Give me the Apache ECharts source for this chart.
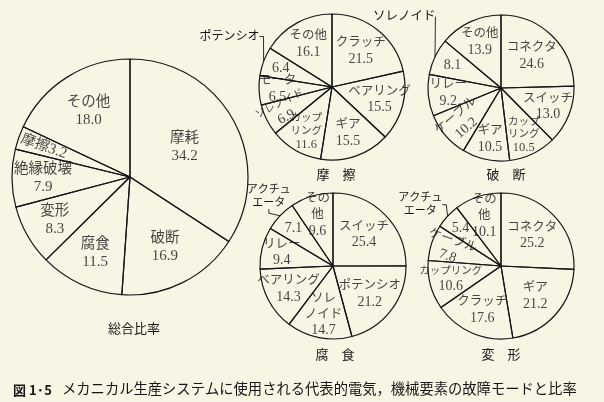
<!DOCTYPE html>
<html><head><meta charset="utf-8">
<script src="https://cdn.jsdelivr.net/npm/echarts@6/dist/echarts.min.js"></script>
<style>html,body{margin:0;padding:0;background:#f7f5e4;}#c{width:604px;height:402px;}</style>
</head><body><div id="c"></div>
<script>
// ---- data ----
const overallNames = ['摩耗','破断','腐食','変形','絶縁破壊','摩擦','その他'];
const overallValues = [34.2,16.9,11.5,8.3,7.9,3.2,18.0];
const frictionNames = ['クラッチ','ベアリング','ギア','カップ\nリング','ソレノイド','モータ','ポテンシオ','その他'];
const frictionValues = [21.5,15.5,15.5,11.6,6.9,6.5,6.4,16.1];
const fractureNames = ['コネクタ','スイッチ','カップ\nリング','ギア','ケーブル','リレー','ソレノイド','その他'];
const fractureValues = [24.6,13.0,10.5,10.5,10.2,9.2,8.1,13.9];
const corrosionNames = ['スイッチ','ポテンシオ','ソレ\nノイド','ベアリング','リレー','アクチュ\nエータ','その\n他'];
const corrosionValues = [25.4,21.2,14.7,14.3,9.4,7.1,9.6];
const deformNames = ['コネクタ','ギア','クラッチ','カップリング','ケーブル','アクチュ\nエータ','その\n他'];
const deformValues = [25.2,21.2,17.6,10.6,7.8,5.4,10.1];
const chartTitles = ['総合比率','摩　擦','破　断','腐　食','変　形'];
const captionNo = '図 1·5';
const captionText = 'メカニカル生産システムに使用される代表的電気，機械要素の故障モードと比率';

// ---- styling / layout config (not data) ----
const FONT = "'Liberation Serif','Noto Sans CJK JP',serif";
const INK = '#161616';
const BG = '#f7f5e4';
const pies = [
  {names: overallNames, values: overallValues, center:[130,177], r:118, nfs:14.5, vfs:15,
   outside:[], ofs:11, radial:['摩擦'], inline:['摩擦'], small:[], shift:[0,0]},
  {names: frictionNames, values: frictionValues, center:[332,87], r:73, nfs:12.5, vfs:14,
   outside:['ポテンシオ'], ofs:12, radial:['ソレノイド'], inline:[], small:['ソレノイド','カップ\nリング'], shift:[18,-20]},
  {names: fractureNames, values: fractureValues, center:[501,88], r:73, nfs:12.5, vfs:14,
   outside:['ソレノイド'], ofs:12.5, radial:['ケーブル'], inline:[], small:['カップ\nリング'], shift:[22,-34]},
  {names: corrosionNames, values: corrosionValues, center:[333,266], r:73, nfs:12.5, vfs:14,
   outside:['アクチュ\nエータ'], ofs:11, radial:[], inline:[], small:[], shift:[30,-10]},
  {names: deformNames, values: deformValues, center:[501,266], r:73, nfs:12.5, vfs:14,
   outside:['アクチュ\nエータ'], ofs:11, radial:['ケーブル'], inline:[], small:['カップリング'], shift:[14,-2]}
];
const titlePos = [[129,318],[331,164],[501,164],[330,344],[496,344]];

const series = [], polar = [], angleAxis = [], radiusAxis = [];
pies.forEach((p, pi) => {
  const total = p.values.reduce((a,b)=>a+b,0);
  // main pie: slices + outside name labels
  series.push({
    type:'pie', center:p.center, radius:p.r, startAngle:90, clockwise:true,
    silent:true, animation:false, avoidLabelOverlap:false,
    itemStyle:{color:'rgba(0,0,0,0)', borderColor:INK, borderWidth:1.2},
    label:{show:false}, labelLine:{show:false},
    labelLayout: function (params) {
      const r = params.labelRect;
      if (!r || !r.width) return {};
      return {x: r.x + r.width/2 + p.shift[0], y: r.y + r.height/2 + p.shift[1],
              align:'center', verticalAlign:'middle'};
    },
    data:p.names.map((n,i)=>{
      const o = {name:n, value:p.values[i]};
      if (p.outside.includes(n)) {
        o.label = {show:true, position:'outside', formatter:'{b}', color:INK,
                   fontFamily:FONT, fontSize:p.ofs, lineHeight:p.ofs+2, alignTo:'none'};
        o.labelLine = {show:true, length:14, length2:4, lineStyle:{color:INK, width:0.9}};
      }
      return o;
    })
  });
  // polar system sharing the pie's geometry, used to place the inner labels
  polar.push({center:p.center, radius:p.r});
  angleAxis.push({polarIndex:pi, type:'value', min:0, max:total, startAngle:90, clockwise:true, show:false});
  radiusAxis.push({polarIndex:pi, type:'value', min:0, max:1, show:false});
  let cum = 0;
  const pts = p.names.map((n,i)=>{
    const v = p.values[i];
    const mid = cum + v/2; cum += v;
    const share = v / total;
    const rf = Math.min(0.8, Math.max(0.5, 0.8 - 0.8*share));
    const vs = v.toFixed(1);
    const small = p.small.includes(n);
    const nk = small ? 'ns' : 'n';
    let txt;
    if (p.outside.includes(n)) txt = '{v|' + vs + '}';
    else if (p.inline.includes(n)) txt = '{n|' + n + '}{v|' + vs + '}';
    else txt = '{' + nk + '|' + n + '}\n{' + (small && n.includes('\n') ? 'vs' : 'v') + '|' + vs + '}';
    let rot = 0;
    if (p.radial.includes(n)) {
      const theta = mid / total * 360;
      rot = 90 - theta;
      while (rot > 90) rot -= 180;
      while (rot <= -90) rot += 180;
    }
    return {value:[rf, mid], label:{formatter:txt, rotate:rot}};
  });
  series.push({
    type:'scatter', coordinateSystem:'polar', polarIndex:pi, silent:true, animation:false,
    symbolSize:1, itemStyle:{color:'rgba(0,0,0,0)'},
    label:{show:true, position:'inside', color:INK, fontFamily:FONT,
      rich:{
        n:{fontFamily:FONT, fontSize:p.nfs, lineHeight:p.nfs+3, color:INK},
        ns:{fontFamily:FONT, fontSize:10.5, lineHeight:12.5, color:INK},
        v:{fontFamily:FONT, fontSize:p.vfs, lineHeight:p.vfs+3, color:INK},
        vs:{fontFamily:FONT, fontSize:12.5, lineHeight:14, color:INK}
      }},
    data:pts
  });
});

const titles = chartTitles.map((t,i)=>({
  text:t, left:titlePos[i][0], top:titlePos[i][1], textAlign:'center',
  textStyle:{fontFamily:FONT, fontSize:13, fontWeight:'normal', color:INK}
}));
titles.push({
  text:'{b|' + captionNo + '}  {n|' + captionText + '}', left:8, top:376,
  textStyle:{fontWeight:'normal', rich:{
    b:{fontFamily:"'Noto Sans CJK JP',sans-serif", fontSize:13, fontWeight:'bold', color:INK},
    n:{fontFamily:FONT, fontSize:14.3, fontWeight:'normal', color:INK}
  }}
});

const chart = echarts.init(document.getElementById('c'), null, {renderer:'canvas'});
chart.setOption({backgroundColor:BG, animation:false, title:titles,
  polar:polar, angleAxis:angleAxis, radiusAxis:radiusAxis, series:series});
</script></body></html>
